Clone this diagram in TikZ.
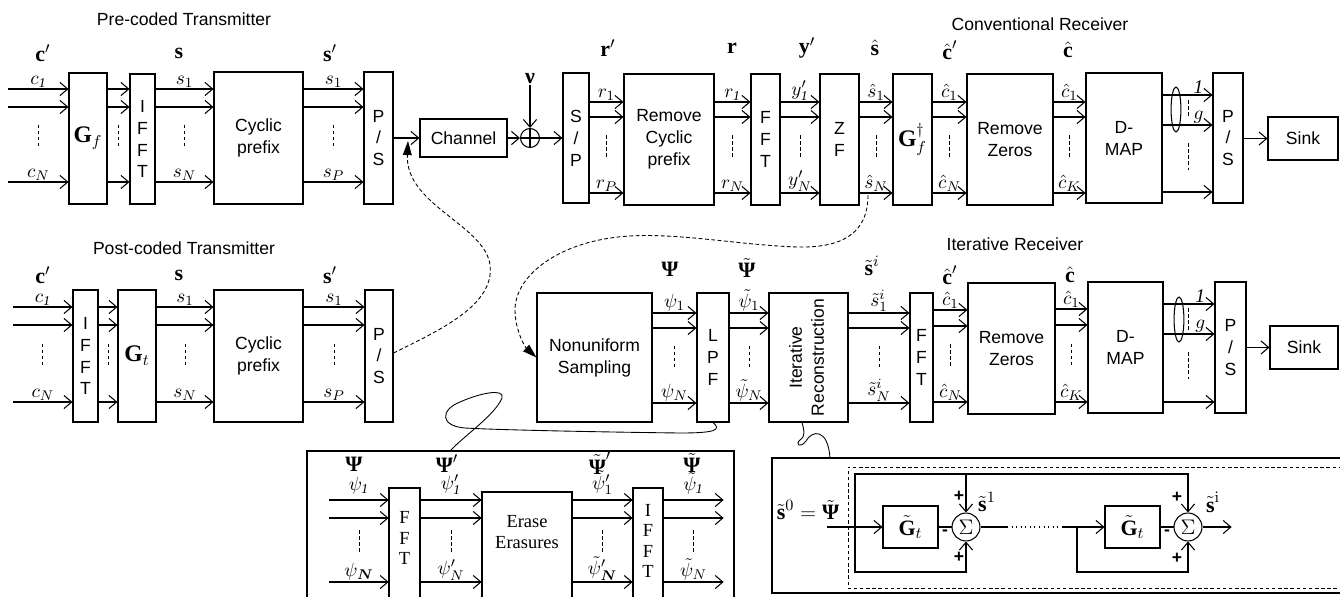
\documentclass[tikz,border=0pt]{standalone}
\usepackage{amsmath}
\usepackage[no-math]{fontspec}
\setmainfont{Liberation Serif}
\setsansfont{Liberation Sans}
\usetikzlibrary{arrows.meta}
\newcommand\bv[1]{\text{\normalfont\bfseries #1}}
\newcommand\bPsi{\bv{Ψ}}
\tikzset{
 blk/.style={draw, line width=0.6pt, inner sep=0pt, align=center, font=\sffamily\fontsize{10}{12.5}\selectfont},
 stxt/.style={inner sep=0pt, align=center, font=\rmfamily\fontsize{10.5}{11.5}\selectfont},
 arr/.style={line width=0.6pt, -{Straight Barb[length=4.4pt,width=7.5pt]}},
 ln/.style={line width=0.6pt},
 dsh/.style={line width=0.5pt, dash pattern=on 2pt off 1.5pt},
 lab/.style={inner sep=0.5pt, font=\fontsize{11}{12}\selectfont},
 vlab/.style={inner sep=0pt, font=\fontsize{12.5}{14}\selectfont},
 ttl/.style={inner sep=0pt, font=\sffamily\fontsize{10}{12}\selectfont},
 pnt/.style={inner sep=0pt, minimum size=0pt},
 curvarr/.style={line width=0.5pt, dash pattern=on 2.2pt off 1.4pt, -{Triangle[length=8pt,width=5pt]}},
 loopl/.style={line width=0.5pt},
 sumn/.style={circle, draw, line width=0.6pt, minimum size=15.9pt, inner sep=0pt, font=\fontsize{12}{14}\selectfont},
 sgn/.style={inner sep=0pt, font=\sffamily\bfseries\fontsize{10}{12}\selectfont},
}
\newcommand\bx[6]{\node[blk, minimum width={(#4-#2)*0.02cm}, minimum height={(#5-#3)*0.02cm}] (#1) at ({(#2+#4)/2},{(#3+#5)/2}) {#6};}
\newcommand\bus[9]{%
 \draw[arr] (#1.east |- 0,#3) -- (#2.west |- 0,#3) node[lab, midway, above, yshift=#8] {#6};
 \draw[arr] (#1.east |- 0,#4) -- (#2.west |- 0,#4);
 \draw[arr] (#1.east |- 0,#5) -- (#2.west |- 0,#5) node[lab, midway, above, yshift=#9] {#7};
 \path (#1.east |- 0,#3) -- (#2.west |- 0,#3) coordinate[midway] (bm);
 \pgfmathsetmacro\bta{(#4+#5)/2-20}\pgfmathsetmacro\btb{(#4+#5)/2+4}
 \draw[dsh] (bm |- 0,\bta) -- (bm |- 0,\btb);
}
\begin{document}
\begin{tikzpicture}[x=0.02cm, y=-0.02cm]
\useasboundingbox (0,0) rectangle (1340,596);
\clip (0,0) rectangle (1340,596);

% titles
\node[ttl] (t1) at (184,19) {Pre-coded Transmitter};
\node[ttl] (t2) at (1040,24) {Conventional Receiver};
\node[ttl] (t3) at (184,248) {Post-coded Transmitter};
\node[ttl] (t4) at (1015,244) {Iterative Receiver};

% ---------- pre-coded transmitter
\bx{gf}{69}{73}{107}{204}{\fontsize{13.5}{14}\selectfont$\bv{G}_f$}
\bx{ifftA}{130}{74}{155}{204}{I\\F\\F\\T}
\bx{cpA}{214}{72}{303}{204}{Cyclic\\prefix}
\bx{psA}{364}{72}{393}{204}{P\\/\\S}
\node[pnt] (inA) at (8,138) {};
\bus{inA}{gf}{89}{107}{182}{$c_{\textit{1}}$}{$c_N$}{0pt}{0pt}
\bus{gf}{ifftA}{89}{107}{182}{}{}{0pt}{0pt}
\bus{ifftA}{cpA}{89}{107}{182}{$s_1$}{$s_N$}{0pt}{0pt}
\bus{cpA}{psA}{89}{107}{182}{$s_1$}{$s_P$}{0pt}{0pt}
\node[vlab] (lA1) at (43,53) {$\bv{c}'$};
\node[vlab] (lA2) at (179,53) {$\bv{s}$};
\node[vlab] (lA3) at (330,53) {$\bv{s}'$};

% channel
\bx{ch}{420}{119}{507}{157}{Channel}
\draw[arr] (psA.east |- ch) -- (ch.west);
\node[circle, draw, line width=0.6pt, minimum size=10.8pt, inner sep=0pt] (add) at (530,138) {};
\draw[ln] (add.north) -- (add.south) (add.west) -- (add.east);
\draw[arr] (ch.east) -- (add.west);
\node[vlab] (nu) at (530,79) {$\bv{ν}$};
\draw[arr] (nu.south) -- (add.north);

% ---------- conventional receiver
\bx{sp}{563}{73}{589}{203}{S\\/\\P}
\draw[arr] (add.east) -- (sp.west |- add);
\bx{rcp}{624}{74}{714}{205}{Remove\\Cyclic\\prefix}
\bx{fftA}{751}{74}{780}{205}{F\\F\\T}
\bx{zf}{820}{74}{859}{205}{Z\\F}
\bx{gfd}{893}{74}{932}{205}{\fontsize{13.5}{14}\selectfont$\bv{G}_f^{\dagger}$}
\bx{rzA}{967}{74}{1053}{205}{Remove\\Zeros}
\bx{dmA}{1086}{73}{1162}{203}{D-\\MAP}
\bx{psB}{1213}{73}{1243}{203}{P\\/\\S}
\bx{skA}{1268}{117}{1338}{160}{Sink}
\bus{sp}{rcp}{102}{117}{193}{$r_1$}{$r_P$}{0pt}{0pt}
\bus{rcp}{fftA}{102}{117}{193}{$r_{\textit{1}}$}{$r_N$}{0pt}{0pt}
\bus{fftA}{zf}{102}{117}{193}{$y'_{\textit{1}}$}{$y'_N$}{0pt}{0pt}
\bus{zf}{gfd}{102}{117}{193}{$\hat{s}_1$}{$\hat{s}_N$}{0pt}{0pt}
\bus{gfd}{rzA}{102}{117}{193}{$\hat{c}_1$}{$\hat{c}_N$}{0pt}{0pt}
\bus{rzA}{dmA}{102}{117}{193}{$\hat{c}_1$}{$\hat{c}_K$}{0pt}{0pt}
\draw[arr] (dmA.east |- 0,95) -- (psB.west |- 0,95) node[lab, pos=0.72, above] {\textit{1}};
\draw[arr] (dmA.east |- 0,125) -- (psB.west |- 0,125) node[lab, pos=0.72, above] {$g$};
\draw[arr] (dmA.east |- 0,192) -- (psB.west |- 0,192);
\draw[ln] (1176,109.5) ellipse [x radius=2.8pt, y radius=12.8pt];
\draw[dsh] (1188,100) -- (1188,118) (1188,143) -- (1188,170);
\draw[arr] (psB.east |- skA) -- (skA.west);
\node[vlab] (lB1) at (608,48) {$\bv{r}'$};
\node[vlab] (lB2) at (732,48) {$\bv{r}$};
\node[vlab] (lB3) at (807,48) {$\bv{y}'$};
\node[vlab] (lB4) at (875,48) {$\hat{\bv{s}}$};
\node[vlab] (lB5) at (950,50) {$\hat{\bv{c}}'$};
\node[vlab] (lB6) at (1068,50) {$\hat{\bv{c}}$};

% ---------- post-coded transmitter
\bx{ifftC}{73}{290}{98}{422}{I\\F\\F\\T}
\bx{gt}{118}{290}{156}{422}{\fontsize{13.5}{14}\selectfont$\bv{G}_t$}
\bx{cpC}{214}{290}{303}{422}{Cyclic\\prefix}
\bx{psC}{365}{290}{393}{422}{P\\/\\S}
\node[pnt] (inC) at (13,356) {};
\bus{inC}{ifftC}{307}{325}{402}{$c_{\textit{1}}$}{$c_N$}{0pt}{0pt}
\bus{ifftC}{gt}{307}{325}{402}{}{}{0pt}{0pt}
\bus{gt}{cpC}{307}{325}{402}{$s_1$}{$s_N$}{0pt}{0pt}
\bus{cpC}{psC}{307}{325}{402}{$s_1$}{$s_P$}{0pt}{0pt}
\node[vlab] (lC1) at (43,275) {$\bv{c}'$};
\node[vlab] (lC2) at (179,275) {$\bv{s}$};
\node[vlab] (lC3) at (330,275) {$\bv{s}'$};

\coordinate (tapA) at (408,141);
\draw[curvarr] (psC.east |- 0,353) .. controls (440,330) and (495,305) .. (490,265) .. controls (485,225) and (405,205) .. (tapA);

% ---------- iterative receiver
\bx{nus}{537}{293}{652}{422}{Nonuniform\\Sampling}
\bx{lpf}{697}{293}{729}{422}{L\\P\\F}
\bx{itr}{769}{293}{848}{422}{\rotatebox{90}{\begin{tabular}{@{}c@{}}Iterative\\Reconstruction\end{tabular}}}
\bx{fftD}{910}{293}{933}{422}{F\\F\\T}
\bx{rzD}{968}{283}{1055}{414}{Remove\\Zeros}
\bx{dmD}{1088}{282}{1163}{413}{D-\\MAP}
\bx{psD}{1215}{282}{1246}{413}{P\\/\\S}
\bx{skD}{1270}{326}{1338}{369}{Sink}
\bus{nus}{lpf}{313}{328}{403}{$\psi_1$}{$\psi_N$}{0pt}{0pt}
\bus{lpf}{itr}{313}{328}{403}{$\tilde{\psi}_1$}{$\tilde{\psi}_N$}{0pt}{0pt}
\bus{itr}{fftD}{313}{328}{403}{$\tilde{s}^i_1$}{$\tilde{s}^i_N$}{0pt}{0pt}
\bus{fftD}{rzD}{310}{326}{402}{$\hat{c}_1$}{$\hat{c}_N$}{0pt}{0pt}
\bus{rzD}{dmD}{309}{325}{402}{$\hat{c}_1$}{$\hat{c}_K$}{0pt}{0pt}
\draw[arr] (dmD.east |- 0,304) -- (psD.west |- 0,304) node[lab, pos=0.72, above] {\textit{1}};
\draw[arr] (dmD.east |- 0,334) -- (psD.west |- 0,334) node[lab, pos=0.72, above] {$g$};
\draw[arr] (dmD.east |- 0,402) -- (psD.west |- 0,402);
\draw[ln] (1179,319.5) ellipse [x radius=2.8pt, y radius=12.8pt];
\draw[dsh] (1188,308) -- (1188,330) (1188,352) -- (1188,379);
\draw[arr] (psD.east |- skD) -- (skD.west);
\node[vlab] (lD1) at (670,269) {$\bPsi$};
\node[vlab] (lD2) at (747,268) {$\tilde{\bPsi}$};
\node[vlab] (lD3) at (872,266) {$\tilde{\bv{s}}^{i}$};
\node[vlab] (lD4) at (950,275) {$\hat{\bv{c}}'$};
\node[vlab] (lD5) at (1070,275) {$\hat{\bv{c}}$};

\coordinate (tapB) at (868,195);
\draw[curvarr] (tapB) .. controls (868,235) and (840,248) .. (797,247) .. controls (740,245) and (680,233) .. (630,236) .. controls (560,240) and (515,275) .. (515,310) .. controls (515,330) and (525,347) .. (nus.west);

% ---------- bottom-left detail box (cut by the lower edge)
\draw[ln] (307,620) |- (734,451) -- (734,620);
\draw[ln] (389,620) |- (420,488) -- (420,620);
\draw[ln] (482,620) |- (572,492) -- (572,620);
\draw[ln] (633,620) |- (663,488) -- (663,620);
\coordinate (bltop) at (450,451);
\node[pnt] (fftbL) at (389,540) {};
\node[pnt] (fftbR) at (420,540) {};
\node[pnt] (eraseL) at (482,540) {};
\node[pnt] (eraseR) at (572,540) {};
\node[pnt] (ifftbL) at (633,540) {};
\node[pnt] (ifftbR) at (663,540) {};
\node[stxt] (fftbt) at (404.5,538) {F\\F\\T};
\node[stxt] (eraset) at (527,532) {Erase\\Erasures};
\node[stxt] (ifftbt) at (648,541) {I\\F\\F\\T};
\node[pnt] (inL) at (329,540) {};
\node[pnt] (outL) at (724,540) {};
\bus{inL}{fftbL}{500}{518}{582}{$\psi_{\textit{1}}$}{$\psi_{\boldsymbol{N}}$}{2.5pt}{0pt}
\bus{fftbR}{eraseL}{500}{518}{582}{$\psi'_{\textit{1}}$}{$\psi'_N$}{2.5pt}{0pt}
\bus{eraseR}{ifftbL}{500}{518}{582}{$\tilde{\psi}'_1$}{$\tilde{\psi}'_{\boldsymbol{N}}$}{2.5pt}{0pt}
\bus{ifftbR}{outL}{500}{518}{582}{$\tilde{\psi}_{\textit{1}}$}{$\tilde{\psi}_N$}{2.5pt}{0pt}
\node[vlab] (lL1) at (354,464) {$\bPsi$};
\node[vlab] (lL2) at (447,464) {$\bPsi'$};
\node[vlab] (lL3) at (600,463) {$\tilde{\bPsi}'$};
\node[vlab] (lL4) at (692,463) {$\tilde{\bPsi}$};

\draw[loopl] (lpf.south) .. controls (722,430) and (715,433) .. (680,433) .. controls (600,432) and (500,430) .. (465,428) .. controls (440,426) and (440,410) .. (460,402) .. controls (480,393) and (505,388) .. (502,398) .. controls (495,415) and (465,435) .. (bltop);

% ---------- bottom-right detail box
\draw[ln] (1380,593) -| (772,458) -- (1380,458);
\draw[dsh] (1380,588) -| (848,467) -- (1380,467);
\coordinate (brtop) at (830,458);
\node[vlab] (s0) at (808,510) {$\tilde{\bv{s}}^{0}=\tilde{\bPsi}$};
\node[pnt] (sin) at (827,527) {};
\bx{g1}{883}{506}{938}{548}{\fontsize{12.5}{14}\selectfont$\tilde{\bv{G}}_t$}
\node[sumn] (S1) at (966,527) {$\Sigma$};
\bx{g2}{1105}{506}{1160}{548}{\fontsize{12.5}{14}\selectfont$\tilde{\bv{G}}_t$}
\node[sumn] (S2) at (1188,527) {$\Sigma$};
\node[pnt] (sout) at (1232,527) {};
\coordinate (j1) at (855,527);
\coordinate (tl) at (855,474);
\coordinate (blc) at (855,572);
\coordinate (j2) at (1077,527);
\coordinate (b2) at (1077,572);
\coordinate (d1) at (1007,527);
\coordinate (d2) at (1063,527);
\draw[arr] (sin) -- (g1.west);
\draw[ln] (g1.east) -- (S1.west);
\draw[arr] (j1) -- (tl) -| (S2.north);
\draw[arr] (S1.north |- tl) -- (S1.north);
\draw[arr] (j1) -- (blc) -| (S1.south);
\draw[ln] (S1.east) -- (d1);
\draw[ln, dotted] (d1) -- (d2);
\draw[arr] (d2) -- (g2.west);
\draw[ln] (g2.east) -- (S2.west);
\draw[arr] (j2) -- (b2) -| (S2.south);
\draw[arr] (S2.east) -- (sout);
\node[sgn] (p1) at (959,496) {+};
\node[sgn] (m1) at (945,533) {-};
\node[sgn] (p2) at (959,557) {+};
\node[vlab] (s1l) at (987,502) {$\tilde{\bv{s}}^{1}$};
\node[sgn] (p3) at (1177,497) {+};
\node[sgn] (m2) at (1167,533) {-};
\node[sgn] (p4) at (1177,558) {+};
\node[vlab] (sil) at (1213,502) {$\tilde{\bv{s}}^{\mathrm{i}}$};

\draw[loopl] (itr.south -| 802,0) .. controls (804,430) and (806,436) .. (800,440) .. controls (795,444) and (800,449) .. (806,441) .. controls (812,430) and (828,428) .. (brtop);
\end{tikzpicture}
\end{document}
